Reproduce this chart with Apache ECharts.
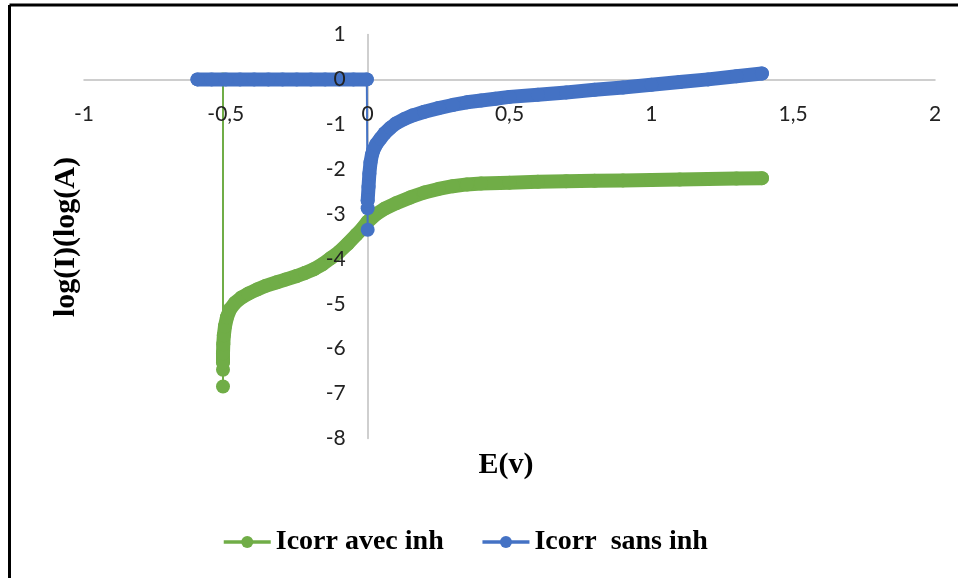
<!DOCTYPE html>
<html>
<head>
<meta charset="utf-8">
<script src="https://cdn.jsdelivr.net/npm/echarts@6/dist/echarts.min.js"></script>
<style>
  html, body { margin: 0; padding: 0; background: #fff; }
  #chart { width: 958px; height: 578px; }
</style>
</head>
<body>
<div id="chart"></div>
<script>
// Axis ranges and ticks
const xTicks = { min: -1, max: 2, step: 0.5 };
const yTicks = { min: -8, max: 1, step: 1 };

// Icorr avec inh : lead-in points (vertical drop at -0.51 V)
const avecLeadE   = [-0.51, -0.51, -0.51];
const avecLeadLog = [0, -6.84, -6.47];
// Icorr avec inh : polarisation curve
const avecCurveE = [-0.51, -0.51, -0.509, -0.507, -0.503, -0.496, -0.485, -0.468, -0.445, -0.42,
  -0.39, -0.36, -0.32, -0.29, -0.25, -0.22, -0.19, -0.16, -0.13, -0.10,
  -0.07, -0.04, -0.02, 0.0, 0.03, 0.06, 0.10, 0.15, 0.20, 0.25,
  0.30, 0.35, 0.40, 0.50, 0.60, 0.70, 0.80, 0.90, 1.00, 1.10,
  1.20, 1.30, 1.39];
const avecCurveLog = [-6.3, -6.1, -5.9, -5.7, -5.5, -5.3, -5.12, -4.98, -4.86, -4.77,
  -4.68, -4.6, -4.52, -4.46, -4.38, -4.31, -4.23, -4.12, -3.98, -3.84,
  -3.66, -3.46, -3.33, -3.17, -3.0, -2.88, -2.76, -2.63, -2.52, -2.44,
  -2.38, -2.34, -2.32, -2.3, -2.28, -2.27, -2.26, -2.25, -2.24, -2.23,
  -2.22, -2.21, -2.2];

// Icorr sans inh : flat segment at log(I) = 0
const sansFlatE   = [-0.60, -0.55, -0.50, -0.45, -0.40, -0.35, -0.30, -0.25, -0.20, -0.15, -0.10, -0.05, -0.003];
const sansFlatLog = [0, 0, 0, 0, 0, 0, 0, 0, 0, 0, 0, 0, 0];
// Icorr sans inh : drop points at 0 V
const sansLeadE   = [0.0, 0.0];
const sansLeadLog = [-3.35, -2.87];
// Icorr sans inh : polarisation curve
const sansCurveE = [0.0, 0.003, 0.006, 0.01, 0.015, 0.02, 0.03, 0.045, 0.06, 0.08,
  0.10, 0.13, 0.16, 0.20, 0.25, 0.30, 0.35, 0.40, 0.45, 0.50,
  0.60, 0.70, 0.80, 0.90, 1.00, 1.10, 1.20, 1.30, 1.39];
const sansCurveLog = [-2.7, -2.4, -2.1, -1.85, -1.68, -1.58, -1.45, -1.32, -1.2, -1.08,
  -0.98, -0.88, -0.8, -0.72, -0.64, -0.57, -0.51, -0.47, -0.43, -0.39,
  -0.34, -0.29, -0.23, -0.18, -0.12, -0.06, 0.0, 0.07, 0.13];

const legendNames = ['Icorr avec inh', 'Icorr  sans inh'];
const GREEN = '#70AD47';
const BLUE = '#4472C4';

function pairs(xs, ys) { return xs.map((x, i) => [x, ys[i]]); }

const avecPts = pairs(avecLeadE, avecLeadLog).concat(pairs(avecCurveE, avecCurveLog));
const avecBand = pairs(avecCurveE, avecCurveLog);
const sansFlat = pairs(sansFlatE, sansFlatLog);
const sansPts = sansFlat.concat(pairs(sansLeadE, sansLeadLog), pairs(sansCurveE, sansCurveLog));
const sansBand = pairs(sansCurveE, sansCurveLog);

function mainSeries(name, color, data, z) {
  return {
    name: name, type: 'line', data: data, z: z,
    symbol: 'circle', symbolSize: 14, showAllSymbol: true,
    itemStyle: { color: color, borderWidth: 0 },
    lineStyle: { color: color, width: 2 },
    emphasis: { disabled: true }, silent: true
  };
}
function bandSeries(name, color, data, z) {
  return {
    name: name, type: 'line', data: data, z: z, showSymbol: false,
    lineStyle: { color: color, width: 14, cap: 'round', join: 'round' },
    emphasis: { disabled: true }, silent: true
  };
}

// plot area
const G = { left: 84, right: 23, top: 34.5, bottom: 139.5, height: 578 - 34.5 - 139.5, width: 958 - 84 - 23 };
// pixel offsets of the zero lines from the grid edges, used to place the tick labels next to them
const xZeroFromBottom = G.height * (0 - yTicks.min) / (yTicks.max - yTicks.min);
const yZeroFromLeft = G.width * (0 - xTicks.min) / (xTicks.max - xTicks.min);

const chart = echarts.init(document.getElementById('chart'), null, { renderer: 'canvas' });
const tickFont = { fontFamily: 'Lato', fontSize: 21, color: '#222' };
const hidden = { axisLine: { show: false }, axisTick: { show: false }, splitLine: { show: false } };

chart.setOption({
  animation: false,
  backgroundColor: '#fff',
  grid: { left: G.left, right: G.right, top: G.top, bottom: G.bottom },
  xAxis: [
    {
      type: 'value', min: xTicks.min, max: xTicks.max, interval: xTicks.step,
      axisLine: { onZero: true, lineStyle: { color: '#bfbfbf', width: 1.5 } },
      axisTick: { show: false }, splitLine: { show: false }, axisLabel: { show: false }
    },
    Object.assign({
      type: 'value', min: xTicks.min, max: xTicks.max, interval: xTicks.step,
      position: 'bottom', offset: -xZeroFromBottom, z: 10,
      axisLabel: Object.assign({ margin: 24, formatter: v => String(v).replace('.', ',') }, tickFont)
    }, hidden)
  ],
  yAxis: [
    {
      type: 'value', min: yTicks.min, max: yTicks.max, interval: yTicks.step,
      axisLine: { show: true, onZero: true, lineStyle: { color: '#bfbfbf', width: 1.5 } },
      axisTick: { show: false }, splitLine: { show: false }, axisLabel: { show: false }
    },
    Object.assign({
      type: 'value', min: yTicks.min, max: yTicks.max, interval: yTicks.step,
      position: 'left', offset: -yZeroFromLeft, z: 10,
      axisLabel: Object.assign({ margin: 22 }, tickFont)
    }, hidden)
  ],
  legend: {
    data: legendNames.map((n, i) => ({
      name: n,
      itemStyle: { color: i === 0 ? GREEN : BLUE },
      lineStyle: { color: i === 0 ? GREEN : BLUE, width: 3.5 }
    })),
    left: 217, top: 523,
    itemWidth: 47, itemHeight: 15, itemGap: 37,
    textStyle: { fontFamily: 'Liberation Serif', fontWeight: 'bold', fontSize: 28, color: '#000' }
  },
  series: [
    mainSeries(legendNames[0], GREEN, avecPts, 2),
    bandSeries('avec-band', GREEN, avecBand, 2),
    mainSeries(legendNames[1], BLUE, sansPts, 3),
    bandSeries('sans-flat-band', BLUE, sansFlat, 3),
    bandSeries('sans-band', BLUE, sansBand, 3)
  ],
  graphic: [
    { type: 'line', shape: { x1: 9.5, y1: 5, x2: 958, y2: 5 }, style: { stroke: '#000', lineWidth: 3 }, silent: true },
    { type: 'line', shape: { x1: 9.5, y1: 5, x2: 9.5, y2: 578 }, style: { stroke: '#000', lineWidth: 3 }, silent: true },
    { type: 'text', x: 506, y: 465, silent: true,
      style: { text: 'E(v)', align: 'center', verticalAlign: 'middle', textAlign: 'center', textVerticalAlign: 'middle',
               font: 'bold 30px "Liberation Serif"', fill: '#000' } },
    { type: 'text', x: 66, y: 237, rotation: Math.PI / 2, silent: true,
      style: { text: 'log(I)(log(A)', align: 'center', verticalAlign: 'middle', textAlign: 'center', textVerticalAlign: 'middle',
               font: 'bold 30px "Liberation Serif"', fill: '#000' } }
  ]
});
</script>
</body>
</html>
